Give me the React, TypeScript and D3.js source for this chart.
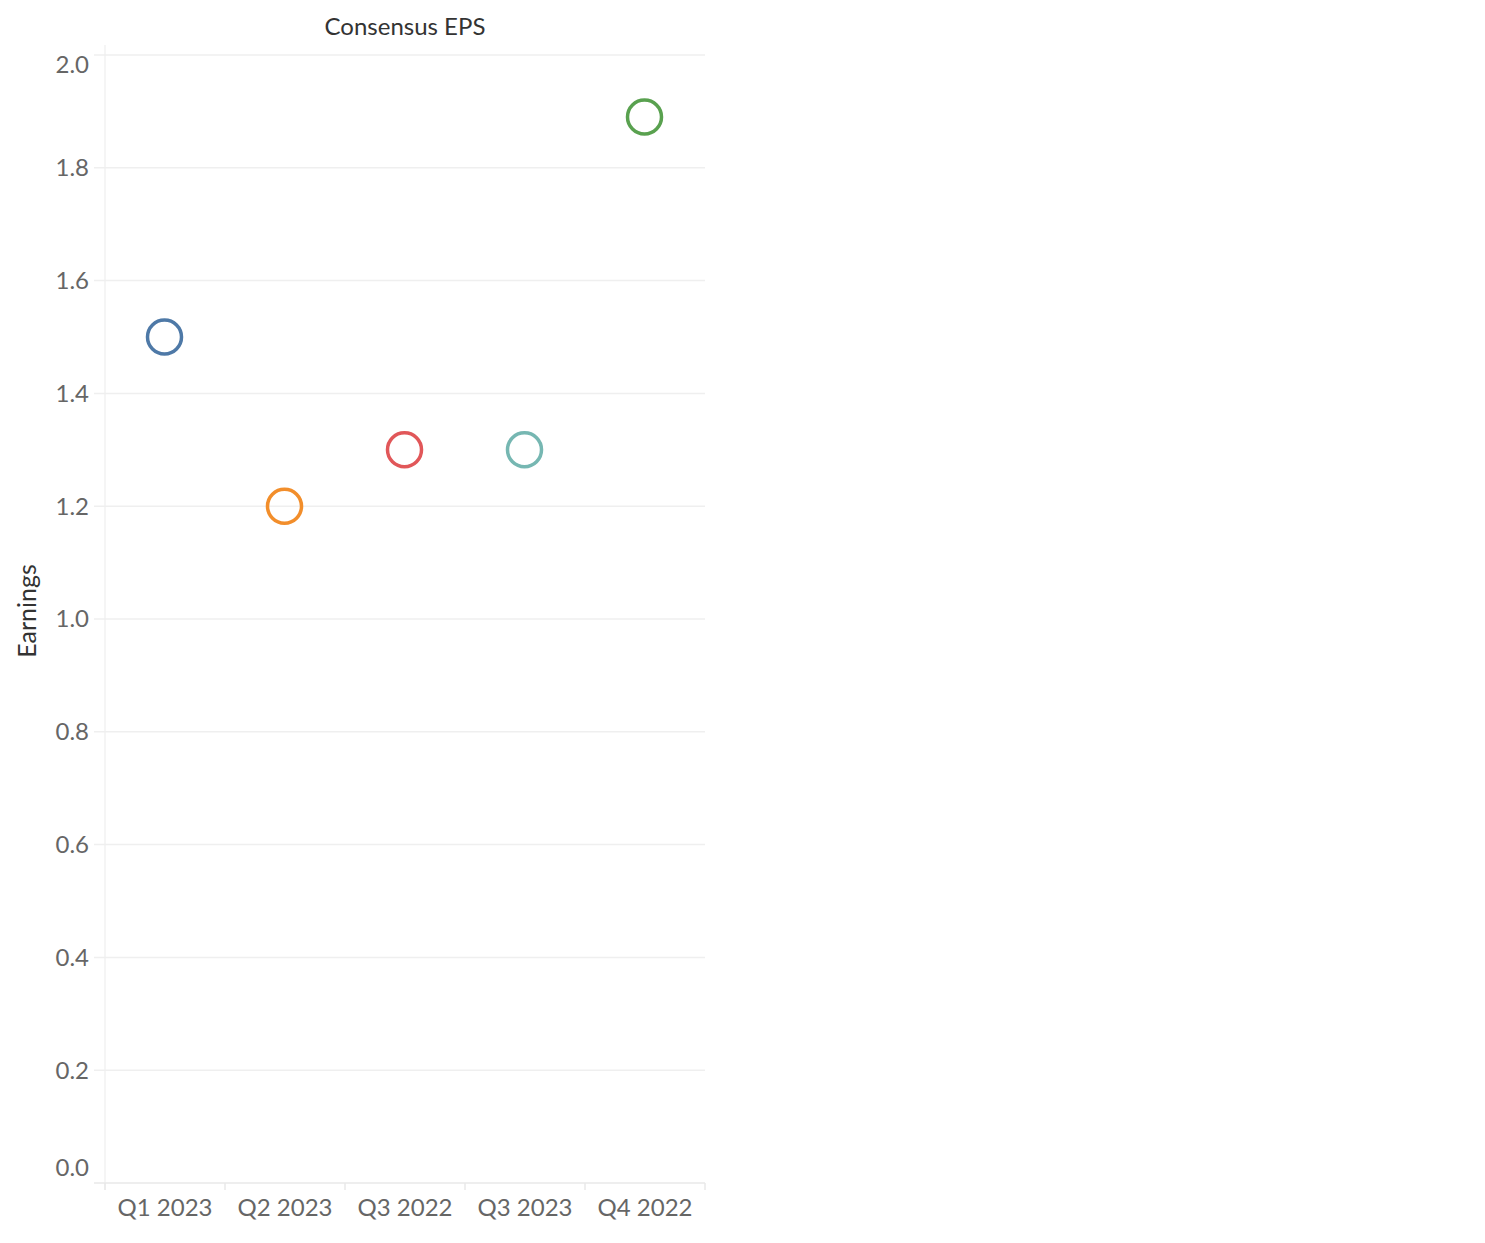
import React, { useRef, useEffect } from 'react'
import * as d3 from 'd3'

const quarters = ['Q1 2023', 'Q2 2023', 'Q3 2022', 'Q3 2023', 'Q4 2022']
const consensusEps = [1.5, 1.2, 1.3, 1.3, 1.89]
const quarterColors = ['#4e79a7', '#f28e2b', '#e15759', '#76b7b2', '#59a14f']
const yTickValues = [0, 0.2, 0.4, 0.6, 0.8, 1.0, 1.2, 1.4, 1.6, 1.8, 2.0]

const WIDTH = 1485
const HEIGHT = 1243
const FONT = 'Lato, "Open Sans", sans-serif'

const App: React.FC = () => {
  const svgRef = useRef<SVGSVGElement>(null)

  useEffect(() => {
    if (!svgRef.current) return
    const svg = d3.select(svgRef.current)
    svg.selectAll('*').remove()

    const left = 105
    const right = 705
    const top = 55
    const bottom = 1183

    const x = d3.scaleBand<string>().domain(quarters).range([left, right])
    const y = d3.scaleLinear().domain([0, 2]).range([bottom, top])

    // gridlines
    svg.append('g')
      .selectAll('line')
      .data(yTickValues.filter(v => v > 0))
      .enter().append('line')
      .attr('x1', left - 11)
      .attr('x2', right)
      .attr('y1', d => y(d))
      .attr('y2', d => y(d))
      .attr('stroke', '#efefef')
      .attr('stroke-width', 1.5)

    // left axis line
    svg.append('line')
      .attr('x1', left).attr('x2', left)
      .attr('y1', top - 10).attr('y2', bottom + 7)
      .attr('stroke', '#efefef')
      .attr('stroke-width', 1.2)

    // bottom axis line + zero tick
    svg.append('line')
      .attr('x1', left - 11).attr('x2', right)
      .attr('y1', bottom).attr('y2', bottom)
      .attr('stroke', '#e8e8e8')
      .attr('stroke-width', 1.5)

    // band separators on x axis
    svg.append('g')
      .selectAll('line')
      .data([...quarters.map(q => x(q)!), right])
      .enter().append('line')
      .attr('x1', d => d).attr('x2', d => d)
      .attr('y1', bottom).attr('y2', bottom + 7)
      .attr('stroke', '#e8e8e8')
      .attr('stroke-width', 1.5)

    // y tick labels
    svg.append('g')
      .selectAll('text')
      .data(yTickValues)
      .enter().append('text')
      .attr('x', 89)
      .attr('y', d => y(d))
      .attr('dy', d => (d === 2 ? '0.77em' : d === 0 ? '-0.31em' : '0.35em'))
      .attr('text-anchor', 'end')
      .attr('font-family', FONT)
      .attr('font-size', '24px')
      .attr('fill', '#666')
      .text(d => d3.format('.1f')(d))

    // x tick labels
    svg.append('g')
      .selectAll('text')
      .data(quarters)
      .enter().append('text')
      .attr('x', d => x(d)! + x.bandwidth() / 2)
      .attr('y', 1216)
      .attr('text-anchor', 'middle')
      .attr('font-family', FONT)
      .attr('font-size', '24px')
      .attr('fill', '#666')
      .text(d => d)

    // title
    svg.append('text')
      .attr('x', (left + right) / 2)
      .attr('y', 35)
      .attr('text-anchor', 'middle')
      .attr('font-family', FONT)
      .attr('font-size', '24px')
      .attr('fill', '#333')
      .text('Consensus EPS')

    // y axis title
    svg.append('text')
      .attr('transform', `translate(27, 611) rotate(-90)`)
      .attr('dy', '0.36em')
      .attr('text-anchor', 'middle')
      .attr('font-family', FONT)
      .attr('font-size', '25px')
      .attr('fill', '#333')
      .text('Earnings')

    // marks
    svg.append('g')
      .selectAll('circle')
      .data(quarters.map((q, i) => ({ q, v: consensusEps[i], c: quarterColors[i] })))
      .enter().append('circle')
      .attr('cx', d => x(d.q)! + x.bandwidth() / 2 - 0.5)
      .attr('cy', d => y(d.v))
      .attr('r', 17)
      .attr('fill', 'none')
      .attr('stroke', d => d.c)
      .attr('stroke-width', 3.5)
  }, [])

  return (
    <svg
      ref={svgRef}
      width={WIDTH}
      height={HEIGHT}
      style={{ position: 'absolute', left: 0, top: 0, background: '#fff' }}
    />
  )
}

export default App
